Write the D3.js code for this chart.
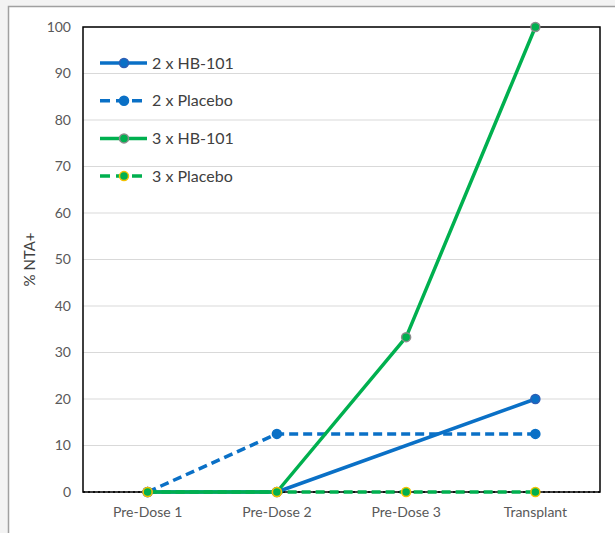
<!DOCTYPE html>
<html>
<head>
<meta charset="utf-8">
<script src="https://cdn.jsdelivr.net/npm/d3@7"></script>
<style>
  html, body { margin: 0; padding: 0; background: #f3f3f3; }
  svg { display: block; }
  text { font-family: Lato, "Open Sans", "Liberation Sans", sans-serif; }
</style>
</head>
<body>
<svg id="chart" width="615" height="533"></svg>
<script>
// Timepoints along the x axis
const categories = ["Pre-Dose 1", "Pre-Dose 2", "Pre-Dose 3", "Transplant"];

// % NTA+ per group (null = not measured; the line spans the gap)
const hb101x2   = [0, 0, null, 20];
const placebox2 = [0, 12.5, null, 12.5];
const hb101x3   = [0, 0, 33.3, 100];
const placebox3 = [0, 0, 0, 0];

const yTicks = [0, 10, 20, 30, 40, 50, 60, 70, 80, 90, 100];

const series = [
  { name: "2 x HB-101",  values: hb101x2,   stroke: "#0a70c6", dash: null,   fill: "#0a70c6", mstroke: "#2e5fb5" },
  { name: "2 x Placebo", values: placebox2, stroke: "#0a70c6", dash: "9,5",  fill: "#0a70c6", mstroke: "#0a70c6" },
  { name: "3 x HB-101",  values: hb101x3,   stroke: "#00b04f", dash: null,   fill: "#00b04f", mstroke: "#8c8c8c" },
  { name: "3 x Placebo", values: placebox3, stroke: "#00b04f", dash: "9,5",  fill: "#00b04f", mstroke: "#f2c200" }
];

const svg = d3.select("#chart");

// chart frame
svg.append("rect").attr("x", 8.5).attr("y", 6.5).attr("width", 620).attr("height", 540)
  .attr("fill", "#ffffff").attr("stroke", "#a0a0a0").attr("stroke-width", 1.5);

const plot = { left: 83, right: 600, top: 27, bottom: 492 };

const x = d3.scaleBand().domain(categories).range([plot.left, plot.right]);
const y = d3.scaleLinear().domain([0, 100]).range([plot.bottom, plot.top]);
const cx = c => x(c) + x.bandwidth() / 2;

// horizontal gridlines
svg.append("g").selectAll("line").data(yTicks.filter(d => d > 0)).join("line")
  .attr("x1", plot.left).attr("x2", plot.right)
  .attr("y1", d => y(d)).attr("y2", d => y(d))
  .attr("stroke", "#d9d9d9").attr("stroke-width", 1);

// y axis labels
const yAxis = d3.axisLeft(y).tickValues(yTicks).tickSize(0).tickPadding(12);
const gy = svg.append("g").attr("transform", `translate(${plot.left},0)`).call(yAxis);
gy.select(".domain").remove();
gy.selectAll("text").attr("font-size", 14).attr("fill", "#595959")
  .style("font-family", "Lato, 'Open Sans', sans-serif");

// x axis labels
const xAxis = d3.axisBottom(x).tickSize(0).tickPadding(15);
const gx = svg.append("g").attr("transform", `translate(0,${plot.bottom})`).call(xAxis);
gx.select(".domain").remove();
gx.selectAll("text").attr("font-size", 14).attr("fill", "#595959")
  .style("font-family", "Lato, 'Open Sans', sans-serif");

// plot area border
svg.append("rect").attr("x", plot.left).attr("y", plot.top)
  .attr("width", plot.right - plot.left).attr("height", plot.bottom - plot.top)
  .attr("fill", "none").attr("stroke", "#000").attr("stroke-width", 1.5);

// dotted baseline
svg.append("line").attr("x1", plot.left).attr("x2", plot.right)
  .attr("y1", y(0)).attr("y2", y(0))
  .attr("stroke", "#000").attr("stroke-width", 1.5).attr("stroke-dasharray", "2,3");

// y axis title
svg.append("text").attr("transform", `translate(35,${(plot.top + plot.bottom) / 2}) rotate(-90)`)
  .attr("text-anchor", "middle").attr("font-size", 15).attr("fill", "#404040")
  .text("% NTA+");

// series lines (gaps are bridged)
const line = d3.line().x(d => cx(d.c)).y(d => y(d.v));
series.forEach(s => {
  const pts = s.values.map((v, i) => ({ c: categories[i], v })).filter(d => d.v != null);
  svg.append("path").datum(pts).attr("d", line)
    .attr("fill", "none").attr("stroke", s.stroke).attr("stroke-width", 3.5)
    .attr("stroke-dasharray", s.dash).attr("stroke-linejoin", "round");
});

// markers
series.forEach(s => {
  const pts = s.values.map((v, i) => ({ c: categories[i], v })).filter(d => d.v != null);
  svg.append("g").selectAll("circle").data(pts).join("circle")
    .attr("cx", d => cx(d.c)).attr("cy", d => y(d.v)).attr("r", 4.5)
    .attr("fill", s.fill).attr("stroke", s.mstroke).attr("stroke-width", 1.5);
});

// legend
const legend = svg.append("g");
series.forEach((s, i) => {
  const ly = 63 + i * 37.7;
  const g = legend.append("g").attr("transform", `translate(100,${ly})`);
  g.append("line").attr("x1", 0).attr("x2", 47).attr("y1", 0).attr("y2", 0)
    .attr("stroke", s.stroke).attr("stroke-width", 3.5).attr("stroke-dasharray", s.dash ? "10,6" : null);
  g.append("circle").attr("cx", 24).attr("cy", 0).attr("r", 4.5)
    .attr("fill", s.fill).attr("stroke", s.mstroke).attr("stroke-width", 1.5);
  g.append("text").attr("x", 52).attr("y", 0).attr("dy", "0.35em")
    .attr("font-size", 16).attr("fill", "#404040").text(s.name);
});
</script>
</body>
</html>
